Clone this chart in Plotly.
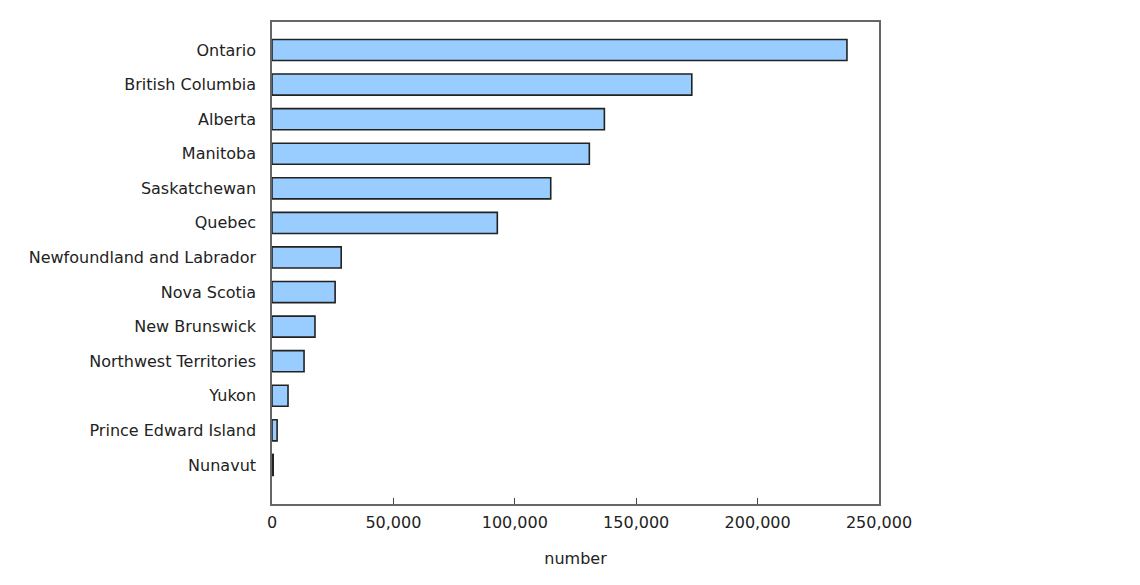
import plotly.graph_objects as go

# provinces and territories, largest first
regions = [
    "Ontario", "British Columbia", "Alberta", "Manitoba", "Saskatchewan",
    "Quebec", "Newfoundland and Labrador", "Nova Scotia", "New Brunswick",
    "Northwest Territories", "Yukon", "Prince Edward Island", "Nunavut",
]
counts = [
    236800, 172900, 136900, 130700, 114800,
    92800, 28500, 26000, 17700,
    13200, 6600, 2100, 500,
]
x_ticks = [0, 50000, 100000, 150000, 200000, 250000]

FONT = "Verdana, DejaVu Sans, sans-serif"

fig = go.Figure()
fig.add_trace(go.Bar(
    x=counts,
    y=regions,
    orientation="h",
    marker=dict(color="#99CCFF", line=dict(color="#222222", width=1.6)),
    hoverinfo="x+y",
))

# page body has an 8px margin, so the figure is sized to fit inside it
fig.update_layout(
    width=1124,
    height=569,
    margin=dict(l=264, r=253, t=14, b=73),
    paper_bgcolor="white",
    plot_bgcolor="white",
    font=dict(family=FONT, size=16, color="#222222"),
    bargap=0.39,
    showlegend=False,
)

fig.update_xaxes(
    range=[0, 250000],
    tickvals=x_ticks,
    tickformat=",",
    ticks="inside",
    ticklen=6,
    tickcolor="#444444",
    ticklabelstandoff=3,
    showgrid=False,
    zeroline=False,
    showline=True,
    linecolor="#666666",
    linewidth=1.5,
    mirror=True,
    title=dict(text="number", standoff=22, font=dict(size=16)),
)
fig.update_yaxes(
    categoryorder="array",
    categoryarray=regions,
    range=[13.13, -0.81],
    ticks="",
    ticklabelstandoff=11,
    showgrid=False,
    zeroline=False,
    showline=True,
    linecolor="#666666",
    linewidth=1.5,
    mirror=True,
)

fig.write_html("out.html")
